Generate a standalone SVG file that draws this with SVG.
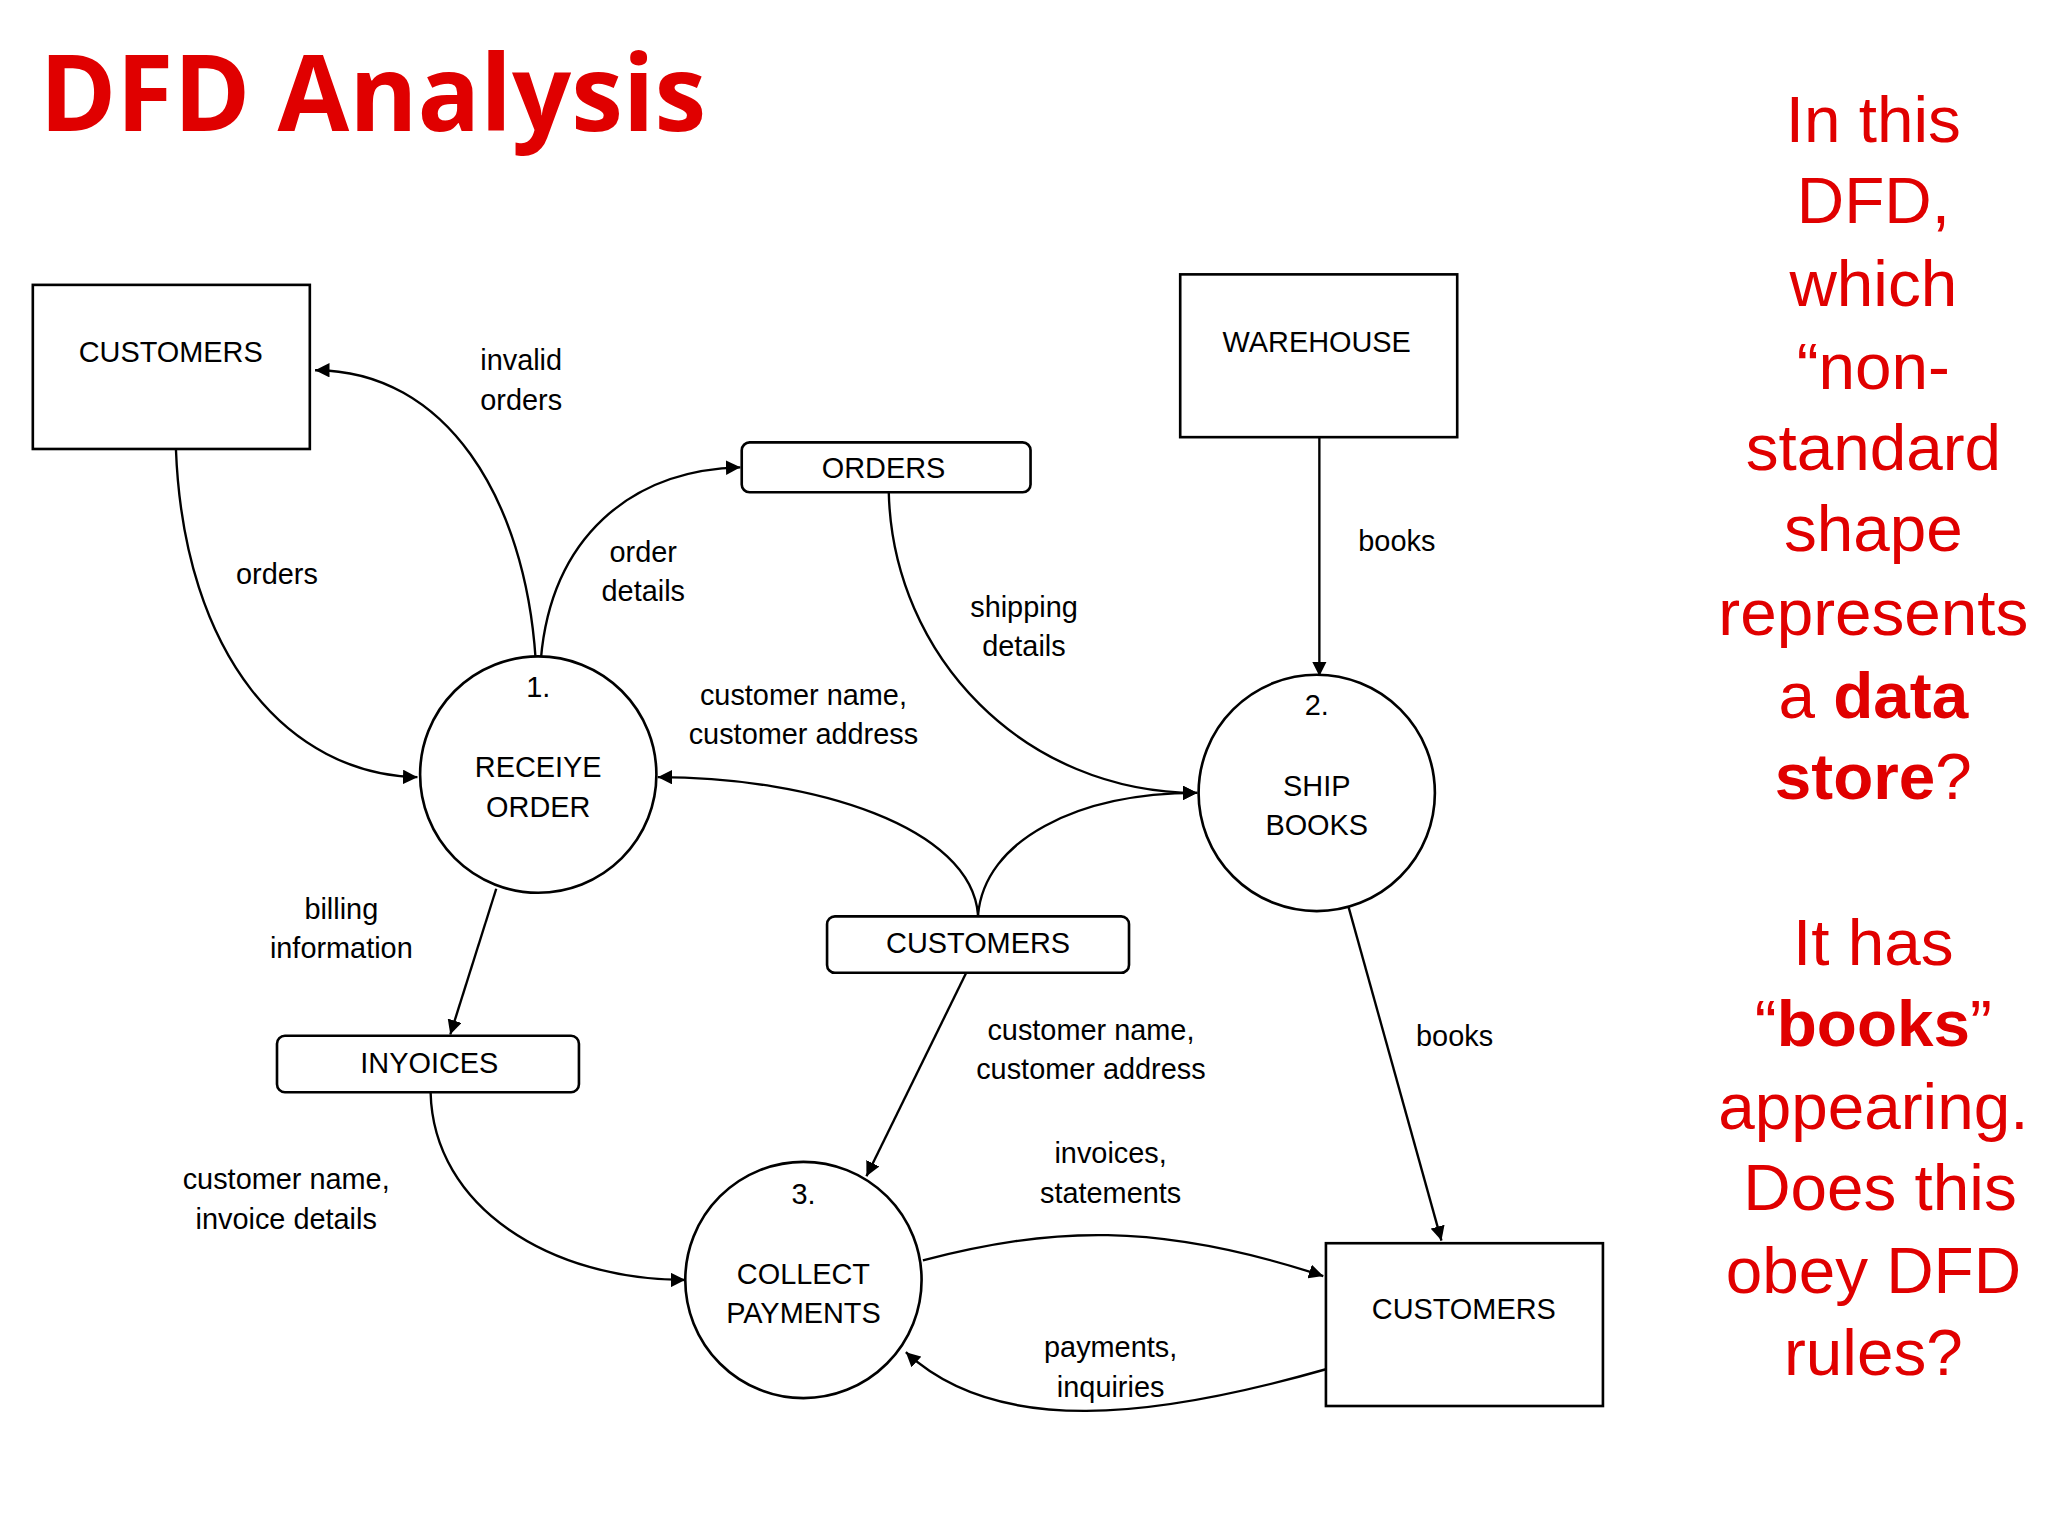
<svg xmlns="http://www.w3.org/2000/svg" width="2048" height="1536" viewBox="0 0 2048 1536">
<style>
.b{fill:#fff;stroke:#000;stroke-width:2}
.c{fill:none;stroke:#000;stroke-width:1.8}
.t{font-family:"Liberation Sans",Arial,sans-serif;font-size:22px;fill:#000;text-anchor:middle}
.r{font-family:"Liberation Sans",Arial,sans-serif;font-size:50px;fill:#e00000;text-anchor:middle}
</style>
<defs>
<marker id="a" viewBox="0 0 10 10" refX="10" refY="5" markerWidth="11" markerHeight="11" markerUnits="userSpaceOnUse" orient="auto"><path d="M0,0L10,5L0,10z" fill="#000"/></marker>
</defs>
<rect width="2048" height="1536" fill="#fff"/>
<g transform="scale(1.3128)">
<text x="30" y="100" font-family="Open Sans,Liberation Sans,sans-serif" font-weight="bold" font-size="80" fill="#e00000" textLength="508" lengthAdjust="spacingAndGlyphs">DFD Analysis</text>
<g id="connectors">
<path class="c" marker-end="url(#a)" d="M134,342 C140,500 220,590 318,592"/>
<path class="c" marker-end="url(#a)" d="M408,502 C400,380 340,282 240,282"/>
<path class="c" marker-end="url(#a)" d="M412,502 C420,410 480,358 564,356"/>
<path class="c" marker-end="url(#a)" d="M677,375 C680,500 780,604 912,604"/>
<path class="c" marker-end="url(#a)" d="M1005,333 L1005,515"/>
<path class="c" marker-end="url(#a)" d="M745,697 C740,630 620,592 501,592"/>
<path class="c" marker-end="url(#a)" d="M745,697 C750,640 820,604 912,604"/>
<path class="c" marker-end="url(#a)" d="M378,677 L343,788"/>
<path class="c" marker-end="url(#a)" d="M328,832 C330,920 420,975 522,975"/>
<path class="c" marker-end="url(#a)" d="M736,741 L660,896"/>
<path class="c" marker-end="url(#a)" d="M1027,690 L1098,945"/>
<path class="c" marker-end="url(#a)" d="M703,960 C800,935 880,930 1008,972"/>
<path class="c" marker-end="url(#a)" d="M1010,1043 C880,1080 760,1095 690,1030"/>
<text class="t" x="397" y="282">invalid</text><text class="t" x="397" y="312">orders</text>
<text class="t" x="211" y="445">orders</text>
<text class="t" x="490" y="428">order</text><text class="t" x="490" y="458">details</text>
<text class="t" x="780" y="470">shipping</text><text class="t" x="780" y="500">details</text>
<text class="t" x="1064" y="420">books</text>
<text class="t" x="612" y="537">customer name,</text><text class="t" x="612" y="567">customer address</text>
<text class="t" x="260" y="700">billing</text><text class="t" x="260" y="730">information</text>
<text class="t" x="831" y="792">customer name,</text><text class="t" x="831" y="822">customer address</text>
<text class="t" x="218" y="906">customer name,</text><text class="t" x="218" y="936">invoice details</text>
<text class="t" x="1108" y="797">books</text>
<text class="t" x="846" y="886">invoices,</text><text class="t" x="846" y="916">statements</text>
<text class="t" x="846" y="1034">payments,</text><text class="t" x="846" y="1064">inquiries</text>
</g>
<g id="customers1"><rect class="b" x="25" y="217" width="211" height="125"/><text class="t" x="130" y="276">CUSTOMERS</text></g>
<g id="warehouse"><rect class="b" x="899" y="209" width="211" height="124"/><text class="t" x="1003" y="268">WAREHOUSE</text></g>
<g id="customers2"><rect class="b" x="1010" y="947" width="211" height="124"/><text class="t" x="1115" y="1005">CUSTOMERS</text></g>
<g id="orders"><rect class="b" x="565" y="337" width="220" height="38" rx="6"/><text class="t" x="673" y="364">ORDERS</text></g>
<g id="customersStore"><rect class="b" x="630" y="698" width="230" height="43" rx="6"/><text class="t" x="745" y="726">CUSTOMERS</text></g>
<g id="invoices"><rect class="b" x="211" y="789" width="230" height="43" rx="6"/><text class="t" x="327" y="817">INYOICES</text></g>
<g id="p1"><circle class="b" cx="410" cy="590" r="90"/><text class="t" x="410" y="531">1.</text><text class="t" x="410" y="592">RECEIYE</text><text class="t" x="410" y="622">ORDER</text></g>
<g id="p2"><circle class="b" cx="1003" cy="604" r="90"/><text class="t" x="1003" y="545">2.</text><text class="t" x="1003" y="606">SHIP</text><text class="t" x="1003" y="636">BOOKS</text></g>
<g id="p3"><circle class="b" cx="612" cy="975" r="90"/><text class="t" x="612" y="917">3.</text><text class="t" x="612" y="978">COLLECT</text><text class="t" x="612" y="1008">PAYMENTS</text></g>
<g id="question">
<text class="r" x="1427" y="108">In this</text>
<text class="r" x="1427" y="170">DFD,</text>
<text class="r" x="1427" y="233">which</text>
<text class="r" x="1427" y="296">“non-</text>
<text class="r" x="1427" y="358">standard</text>
<text class="r" x="1427" y="420">shape</text>
<text class="r" x="1427" y="484">represents</text>
<text class="r" x="1427" y="547">a <tspan font-weight="bold">data</tspan></text>
<text class="r" x="1427" y="609"><tspan font-weight="bold">store</tspan>?</text>
<text class="r" x="1427" y="735">It has</text>
<text class="r" x="1427" y="797">“<tspan font-weight="bold">books</tspan>”</text>
<text class="r" x="1427" y="860">appearing.</text>
<text class="r" x="1432" y="922">Does this</text>
<text class="r" x="1427" y="985">obey DFD</text>
<text class="r" x="1427" y="1047">rules?</text>
</g>
</g>
</svg>
